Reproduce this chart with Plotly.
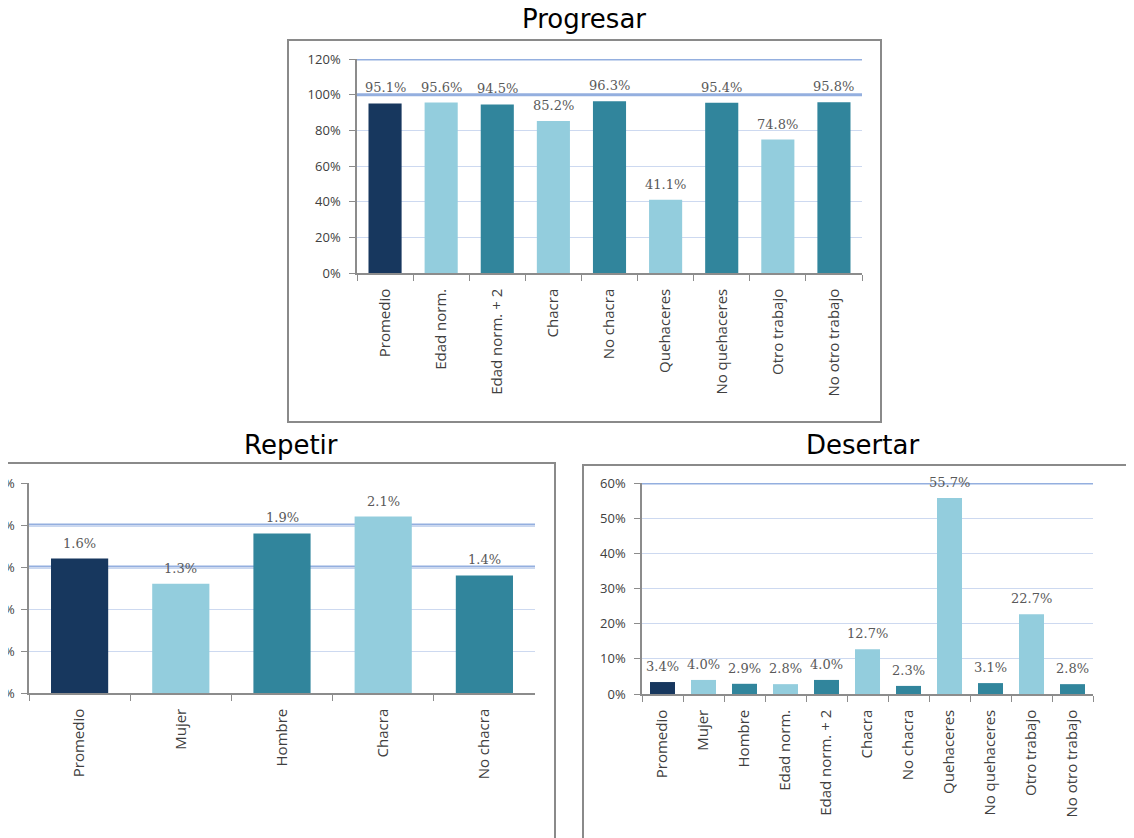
import plotly.graph_objects as go

# page body has an 8px margin; figure fills the rest of the 1134x838 window
OFF = 8
W, H = 1134 - OFF, 838 - OFF

# ---------------- data ----------------
prog_cats = ["Promedio", "Edad norm.", "Edad norm. + 2", "Chacra", "No chacra",
             "Quehaceres", "No quehaceres", "Otro trabajo", "No otro trabajo"]
prog_vals = [0.951, 0.956, 0.945, 0.852, 0.963, 0.411, 0.954, 0.748, 0.958]

rep_cats = ["Promedio", "Mujer", "Hombre", "Chacra", "No chacra"]
rep_vals = [0.016, 0.013, 0.019, 0.021, 0.014]

des_cats = ["Promedio", "Mujer", "Hombre", "Edad norm.", "Edad norm. + 2", "Chacra",
            "No chacra", "Quehaceres", "No quehaceres", "Otro trabajo", "No otro trabajo"]
des_vals = [0.034, 0.040, 0.029, 0.028, 0.040, 0.127, 0.023, 0.557, 0.031, 0.227, 0.028]

prog_ticks = [0, 0.2, 0.4, 0.6, 0.8, 1.0, 1.2]
rep_ticks = [0, 0.005, 0.010, 0.015, 0.020, 0.025]
des_ticks = [0, 0.1, 0.2, 0.3, 0.4, 0.5, 0.6]

# ---------------- styles ----------------
NAVY = "#17375e"
LIGHT = "#93cddd"
TEAL = "#31859c"
prog_colors = [NAVY, LIGHT, TEAL, LIGHT, TEAL, LIGHT, TEAL, LIGHT, TEAL]
rep_colors = [NAVY, LIGHT, TEAL, LIGHT, TEAL]
des_colors = [NAVY, LIGHT, TEAL, LIGHT, TEAL, LIGHT, TEAL, LIGHT, TEAL, LIGHT, TEAL]

GRID = "#cdd9f0"
AXIS = "#8c8c8c"
TICKFONT = dict(family="Open Sans", size=15, color="#404040")
YTICKFONT = dict(family="Open Sans", size=13, color="#404040")
LABFONT = dict(family="DejaVu Serif", size=13, color="#595959")
TITLEFONT = dict(family="DejaVu Sans", size=26, color="#000000")


def px(x):
    return (x - OFF) / W


def py(y):
    return 1 - (y - OFF) / H


fig = go.Figure()

panels = [
    ("x", "y", prog_cats, prog_vals, prog_colors, 0.59),
    ("x2", "y2", rep_cats, rep_vals, rep_colors, 0.565),
    ("x3", "y3", des_cats, des_vals, des_colors, 0.61),
]
for xa, ya, cats, vals, cols, w in panels:
    fig.add_trace(go.Bar(x=cats, y=vals, marker=dict(color=cols, line=dict(width=0)),
                         width=w, xaxis=xa, yaxis=ya, hoverinfo="skip", showlegend=False))
    for c, v in zip(cats, vals):
        fig.add_annotation(x=c, y=v, xref=xa, yref=ya, text=f"{v*100:.1f}%",
                           showarrow=False, yanchor="bottom", yshift=6, font=LABFONT)

xcommon = dict(type="category", showline=True, linecolor=AXIS, linewidth=1.5,
               ticks="outside", tickson="boundaries", ticklen=6, tickcolor=AXIS,
               tickangle=-90, tickfont=TICKFONT, showgrid=False, fixedrange=True,
               automargin=False, ticklabelstandoff=8)
ycommon = dict(showline=True, linecolor=AXIS, linewidth=1.5, ticks="outside", ticklen=6,
               tickcolor=AXIS, tickfont=YTICKFONT, showgrid=True, gridcolor=GRID,
               gridwidth=1, zeroline=False, fixedrange=True, automargin=False,
               ticklabelstandoff=6)

fig.update_layout(
    width=W, height=H, margin=dict(l=0, r=0, t=0, b=0, autoexpand=False),
    paper_bgcolor="white", plot_bgcolor="white",
    xaxis=dict(xcommon, domain=[px(357), px(862)], anchor="y"),
    yaxis=dict(ycommon, domain=[py(273), py(59)], range=[0, 1.2], tickvals=prog_ticks,
               ticktext=[f"{int(round(t*100))}%" for t in prog_ticks], anchor="x"),
    xaxis2=dict(xcommon, domain=[px(29), px(535)], anchor="y2"),
    yaxis2=dict(ycommon, domain=[py(693), py(483)], range=[0, 0.025], tickvals=rep_ticks,
                ticktext=[f"{t*100:.1f}%" for t in rep_ticks], anchor="x2",
                ticklabelstandoff=4),
    xaxis3=dict(xcommon, domain=[px(642), px(1093)], anchor="y3"),
    yaxis3=dict(ycommon, domain=[py(694), py(483)], range=[0, 0.6], tickvals=des_ticks,
                ticktext=[f"{int(round(t*100))}%" for t in des_ticks], anchor="x3"),
)

# emphasised gridlines (as rendered in the reference)
for ya, xa, ys, lay in [("y", "x", [1.0, 1.2], "above"),
                        ("y2", "x2", [0.015, 0.020], "below"),
                        ("y3", "x3", [0.6], "above")]:
    for yv in ys:
        fig.add_shape(type="line", xref=f"{xa} domain", yref=ya, x0=0, x1=1, y0=yv, y1=yv,
                      line=dict(color="#94afdf", width=3), layer=lay)

# panel frames
BORDER = dict(color="#8a8a8a", width=2)
fig.add_shape(type="rect", xref="paper", yref="paper", x0=px(288), x1=px(881),
              y0=py(422), y1=py(40), line=BORDER)
fig.add_shape(type="rect", xref="paper", yref="paper", x0=px(-20), x1=px(555),
              y0=py(860), y1=py(463), line=BORDER)
fig.add_shape(type="rect", xref="paper", yref="paper", x0=px(583), x1=px(1160),
              y0=py(860), y1=py(465), line=BORDER)

# titles
for t, x, y in [("Progresar", 584, 19), ("Repetir", 291, 445), ("Desertar", 862, 445)]:
    fig.add_annotation(x=px(x), y=py(y), xref="paper", yref="paper", text=t,
                       showarrow=False, font=TITLEFONT, xanchor="center", yanchor="middle")

fig.write_html("out.html")
